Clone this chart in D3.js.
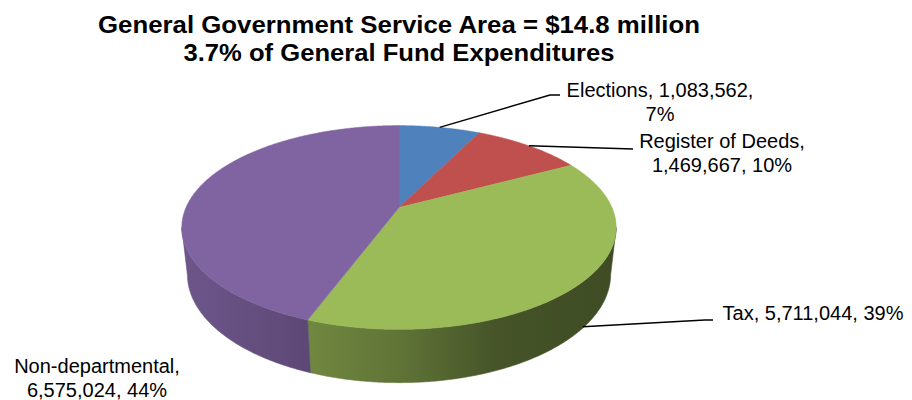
<!DOCTYPE html>
<html>
<head>
<meta charset="utf-8">
<script src="https://cdn.jsdelivr.net/npm/d3@7"></script>
<style>
  html, body { margin: 0; padding: 0; background: #fff; }
  svg { display: block; font-family: "Liberation Sans", Arial, sans-serif; }
</style>
</head>
<body>
<svg id="chart" width="912" height="400"></svg>
<script>
// General Government service area breakdown
const titleLines = [
  "General Government Service Area = $14.8 million",
  "3.7% of General Fund Expenditures"
];
const categories = ["Elections", "Register of Deeds", "Tax", "Non-departmental"];
const amounts = [1083562, 1469667, 5711044, 6575024];
const percentLabels = ["7%", "10%", "39%", "44%"];
const sliceColors = ["#4F81BD", "#C0504D", "#9BBB59", "#8064A2"];

const svg = d3.select("#chart");

// --- 3D disc projection (tilted disc seen in perspective) ---
const cx = 399, cy = 207.5, scale = 213;
const sinA = 0.46, cosA = Math.sqrt(1 - sinA * sinA);
const dist = 4.53;          // camera distance in disc radii
const thick = 0.25;         // disc thickness in disc radii

function project(theta, h) {
  const X = Math.sin(theta), Z = Math.cos(theta);   // Z > 0 is the far side
  const v = Z * sinA + h * cosA;
  const w = Z * cosA - h * sinA;
  const f = 1 / (1 + w / dist);
  return [cx + scale * X * f, cy - scale * v * f];
}

const pie = d3.pie().sort(null).value(d => d)(amounts);
const line = d3.line();
const step = Math.PI / 360;

function arcPoints(a0, a1, h) {
  const n = Math.max(2, Math.ceil((a1 - a0) / step));
  return d3.range(n + 1).map(i => project(a0 + (a1 - a0) * i / n, h));
}

// side-wall shading runs left (lit) to right (shaded)
const defs = svg.append("defs");
const shadeStops = [[0, 0.86], [0.3, 0.72], [0.5, 0.62], [0.72, 0.45], [1, 0.40]];
sliceColors.forEach((c, i) => {
  const g = defs.append("linearGradient")
    .attr("id", "wall" + i)
    .attr("gradientUnits", "userSpaceOnUse")
    .attr("x1", cx - scale * 1.03).attr("x2", cx + scale * 1.03)
    .attr("y1", 0).attr("y2", 0);
  const base = d3.rgb(c);
  shadeStops.forEach(([o, k]) => {
    g.append("stop").attr("offset", o)
      .attr("stop-color", d3.rgb(base.r * k, base.g * k, base.b * k).formatHex());
  });
});

// visible wall span lies between the two silhouette angles
const kk = cosA / dist;
const wallStart = Math.acos(-kk), wallEnd = 2 * Math.PI - wallStart;

const walls = svg.append("g");
pie.forEach((d, i) => {
  const a0 = Math.max(d.startAngle, wallStart);
  const a1 = Math.min(d.endAngle, wallEnd);
  if (a1 <= a0) return;
  const pts = arcPoints(a0, a1, 0).concat(arcPoints(a0, a1, -thick).reverse());
  walls.append("path")
    .attr("d", line(pts) + "Z")
    .attr("fill", `url(#wall${i})`)
    .attr("stroke", `url(#wall${i})`)
    .attr("stroke-width", 0.6);
});

// top faces
const tops = svg.append("g");
pie.forEach((d, i) => {
  const pts = [[cx, cy]].concat(arcPoints(d.startAngle, d.endAngle, 0));
  tops.append("path")
    .attr("d", line(pts) + "Z")
    .attr("fill", sliceColors[i])
    .attr("stroke", sliceColors[i])
    .attr("stroke-width", 0.5)
    .attr("stroke-linejoin", "round");
});

// --- data labels with leader lines ---
const fmt = d3.format(",");
const labelLayout = [
  { lines: [`${categories[0]}, ${fmt(amounts[0])},`, percentLabels[0]], x: 660, y: 97,
    anchorDepth: 0, elbow: [[550, 95], [560, 95]] },
  { lines: [`${categories[1]},`, `${fmt(amounts[1])}, ${percentLabels[1]}`], x: 722, y: 148,
    anchorDepth: 0, elbow: [[633, 149]] },
  { lines: [`${categories[2]}, ${fmt(amounts[2])}, ${percentLabels[2]}`], x: 813, y: 320,
    anchorDepth: -thick * 0.97, elbow: [[705, 320], [713, 320]] },
  { lines: [`${categories[3]},`, `${fmt(amounts[3])}, ${percentLabels[3]}`], x: 97, y: 373,
    anchorDepth: null, elbow: [] }
];

const labels = svg.append("g");
pie.forEach((d, i) => {
  const L = labelLayout[i];
  if (L.anchorDepth !== null) {
    const mid = (d.startAngle + d.endAngle) / 2 - (i === 2 ? 0.04 : 0);
    const start = project(mid, L.anchorDepth);
    labels.append("path")
      .attr("d", line([start].concat(L.elbow)))
      .attr("fill", "none")
      .attr("stroke", "#000")
      .attr("stroke-width", 1.5);
  }
  const t = labels.append("text")
    .attr("x", L.x).attr("y", L.y)
    .attr("text-anchor", "middle")
    .attr("font-size", 20)
    .attr("fill", "#000");
  L.lines.forEach((s, j) => {
    t.append("tspan").attr("x", L.x).attr("dy", j === 0 ? 0 : 23.5).text(s);
  });
});

// title, two centred lines
const titleWidths = [602, 431];
titleLines.forEach((s, j) => {
  svg.append("text")
    .attr("x", 399).attr("y", 32.5 + j * 28.5)
    .attr("text-anchor", "middle")
    .attr("font-size", 23.5)
    .attr("font-weight", "bold")
    .attr("fill", "#000")
    .attr("textLength", titleWidths[j])
    .attr("lengthAdjust", "spacingAndGlyphs")
    .text(s);
});
</script>
</body>
</html>
